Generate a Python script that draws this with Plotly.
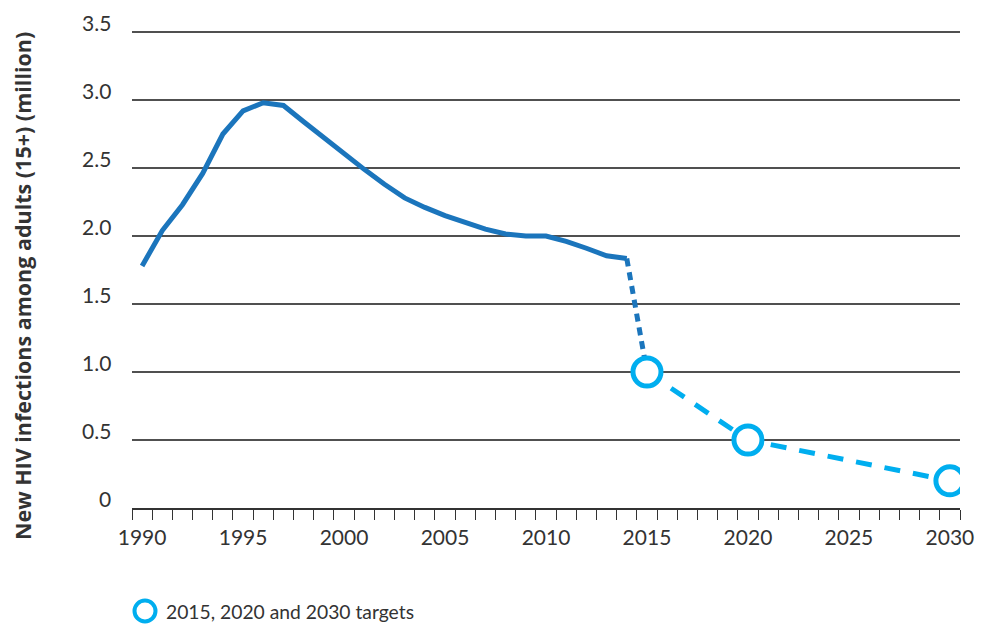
import plotly.graph_objects as go

years = list(range(1990, 2015))
infections = [1.78, 2.04, 2.23, 2.46, 2.75, 2.92, 2.98, 2.96, 2.84, 2.72,
              2.60, 2.49, 2.38, 2.28, 2.21, 2.15, 2.10, 2.05, 2.015, 2.00,
              2.00, 1.96, 1.91, 1.855, 1.835]
target_years = [2015, 2020, 2030]
target_values = [1.0, 0.5, 0.2]
y_tickvals = [0, 0.5, 1.0, 1.5, 2.0, 2.5, 3.0, 3.5]
y_ticktext = ["0", "0.5", "1.0", "1.5", "2.0", "2.5", "3.0", "3.5"]
x_tickvals = [1990, 1995, 2000, 2005, 2010, 2015, 2020, 2025, 2030]
y_title = "New HIV infections among adults (15+) (million)"
legend_text = "2015, 2020 and 2030 targets"

DARK = "#1b75bc"
LIGHT = "#00aeef"
TXT = "#333333"
FONT = "Lato"

# page has an 8px body margin; figure coordinates are screen minus 8
OFF = 8
W, H = 989 - OFF, 630 - OFF
UNIT = (508 - 32) / 3.5          # pixels per million on screen
T = 17
L = 132 - OFF
R = W - (960 - OFF)
B = H - (508 - OFF)
pw, ph = W - L - R, H - T - B
Y_TOP = ph / UNIT


def px_x(sx):
    return (sx - OFF - L) / pw


def px_y(sy):
    return (H - B - (sy - OFF)) / ph


fig = go.Figure()
fig.add_trace(go.Scatter(x=years, y=infections, mode="lines",
                         line=dict(color=DARK, width=5), showlegend=False))
fig.add_trace(go.Scatter(x=[years[-1], target_years[0]], y=[infections[-1], target_values[0]],
                         mode="lines", line=dict(color=DARK, width=5, dash="8px,6px"),
                         showlegend=False))
fig.add_trace(go.Scatter(x=target_years, y=target_values, mode="lines+markers",
                         line=dict(color=LIGHT, width=5, dash="16px,13px"),
                         marker=dict(symbol="circle", size=28, color="white",
                                     line=dict(color=LIGHT, width=5)),
                         showlegend=False))

annotations = []
for v, t in zip(y_tickvals, y_ticktext):
    annotations.append(dict(text=t, xref="paper", yref="y", x=px_x(113), y=v,
                            xanchor="right", yanchor="middle", yshift=10,
                            showarrow=False, font=dict(size=21, color=TXT, family=FONT)))
annotations.append(dict(text="<b>" + y_title + "</b>", xref="paper", yref="paper",
                        x=px_x(22), y=px_y(286), xanchor="center", yanchor="middle",
                        textangle=-90, showarrow=False, borderpad=0,
                        font=dict(size=21.5, color=TXT, family="Open Sans")))
annotations.append(dict(text=legend_text, xref="paper", yref="paper",
                        x=px_x(164), y=px_y(611), xanchor="left", yanchor="middle",
                        showarrow=False, font=dict(size=19.3, color=TXT, family=FONT)))

fig.update_layout(
    width=W, height=H,
    margin=dict(l=L, r=R, t=T, b=B, pad=0),
    paper_bgcolor="white", plot_bgcolor="white",
    font=dict(family=FONT, color=TXT, size=21),
    xaxis=dict(range=[1989.5, 2030.5], tickvals=x_tickvals,
               ticks="outside", ticklen=10, tickcolor="rgba(0,0,0,0)",
               showgrid=False, zeroline=False,
               showline=True, linecolor="#333333", linewidth=1.5,
               minor=dict(tick0=1989.5, dtick=1, ticks="outside", ticklen=10,
                          tickcolor="#333333", tickwidth=1, showgrid=False),
               tickfont=dict(size=21, color=TXT, family=FONT)),
    yaxis=dict(range=[0, Y_TOP], tickvals=y_tickvals, showticklabels=False,
               showgrid=True, gridcolor="#505050", gridwidth=1.5,
               zeroline=False, showline=False, ticks=""),
    annotations=annotations,
    shapes=[
        dict(type="circle", xref="paper", yref="paper",
             xsizemode="pixel", ysizemode="pixel",
             xanchor=px_x(145), yanchor=px_y(611),
             x0=-10.5, x1=10.5, y0=-10.5, y1=10.5,
             line=dict(color=LIGHT, width=4), fillcolor="white"),
    ],
)

fig.write_html("out.html")
